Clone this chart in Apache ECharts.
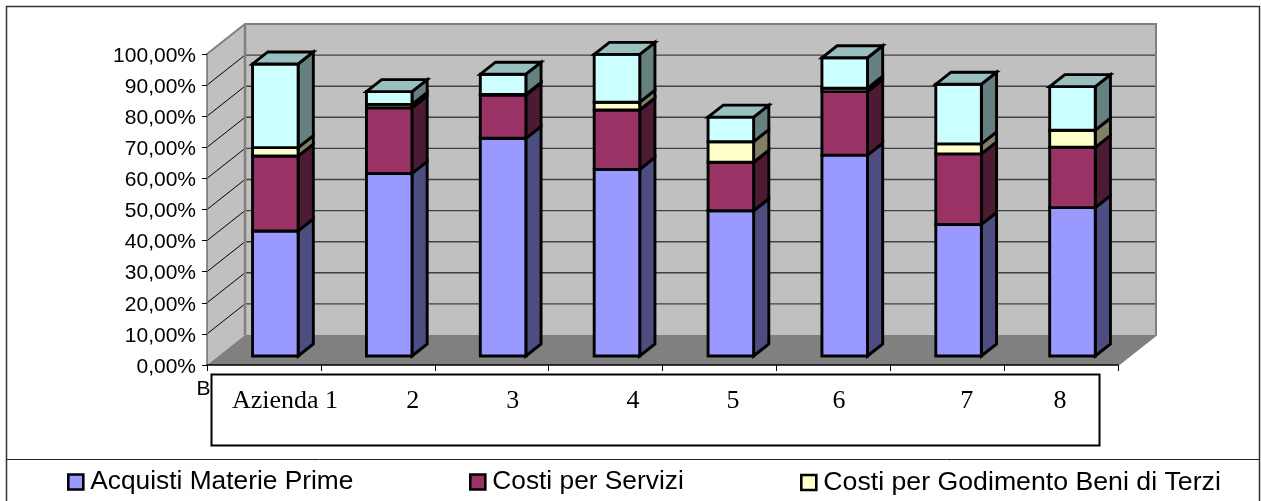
<!DOCTYPE html>
<html>
<head>
<meta charset="utf-8">
<style>html,body{margin:0;padding:0;background:#fff}#chart{width:1261px;height:501px}</style>
<script src="https://cdn.jsdelivr.net/npm/echarts@6/dist/echarts.min.js"></script>
</head>
<body>
<div id="chart"></div>
<script>
// Cost shares per company, percent of revenue, stacked bottom to top
const categories = ['Azienda 1', '2', '3', '4', '5', '6', '7', '8'];
const acquistiMateriePrime = [40.2, 58.7, 70.0, 60.0, 46.7, 64.6, 42.3, 47.7];
const costiServizi = [24.1, 21.1, 13.9, 19.1, 15.6, 20.4, 22.7, 19.4];
const costiGodimento = [2.7, 1.1, 0.2, 2.5, 6.6, 1.1, 3.2, 5.5];
const altriCosti = [26.9, 4.1, 6.5, 15.4, 7.9, 9.8, 19.2, 14.0];
const valueTicks = [0, 10, 20, 30, 40, 50, 60, 70, 80, 90, 100];

// Hand-placed x of each company label inside the text box
const labelCentres = [285, 412.7, 512.7, 633, 733, 839, 966.7, 1060];

const seriesDefs = [
  { name: 'Acquisti Materie Prime', values: acquistiMateriePrime, front: '#9999FF', side: '#4D4D80', top: '#7373BF' },
  { name: 'Costi per Servizi', values: costiServizi, front: '#993366', side: '#4D1A33', top: '#73264D' },
  { name: 'Costi per Godimento Beni di Terzi', values: costiGodimento, front: '#FFFFCC', side: '#808066', top: '#BFBF99' },
  { name: 'Altri Costi', values: altriCosti, front: '#CCFFFF', side: '#668080', top: '#99BFBF' }
];

// Oblique projection of the chart box: full depth of the floor and the walls
const depthX = 38, depthY = -30;
// Bars sit 30% into the depth and take up 40% of it, as they take 40% of the band
const barFrontDepth = 0.3, barDepth = 0.4, barWidthShare = 0.4;

const FONT = '"Liberation Sans", Arial, sans-serif';
const SERIF = '"Liberation Serif", "Times New Roman", serif';

function wallsItem(params, api) {
  const box = params.coordSys;
  const x0 = box.x, x1 = box.x + box.width;
  const bottom = api.coord([0, 0])[1], ceil = api.coord([0, 100])[1];
  const edge = { stroke: '#808080', lineWidth: 2, fill: null };
  const children = [
    { type: 'polygon', shape: { points: [[x0, bottom], [x0, ceil], [x0 + depthX, ceil + depthY], [x0 + depthX, bottom + depthY]] }, style: { fill: '#C0C0C0' } },
    { type: 'polygon', shape: { points: [[x0 + depthX, bottom + depthY], [x0 + depthX, ceil + depthY], [x1 + depthX, ceil + depthY], [x1 + depthX, bottom + depthY]] }, style: { fill: '#C0C0C0' } },
    { type: 'polygon', shape: { points: [[x0, bottom], [x1, bottom], [x1 + depthX, bottom + depthY], [x0 + depthX, bottom + depthY]] }, style: { fill: '#808080' } }
  ];
  valueTicks.filter(t => t > 0 && t < 100).forEach(t => {
    const y = api.coord([0, t])[1];
    children.push({ type: 'line', shape: { x1: x0, y1: y, x2: x0 + depthX, y2: y + depthY }, style: { stroke: '#000', lineWidth: 1 } });
    children.push({ type: 'line', shape: { x1: x0 + depthX, y1: y + depthY, x2: x1 + depthX, y2: y + depthY }, style: { stroke: '#404040', lineWidth: 1.4 } });
  });
  children.push({ type: 'polyline', shape: { points: [[x0, ceil], [x0 + depthX, ceil + depthY], [x1 + depthX, ceil + depthY], [x1 + depthX, bottom + depthY], [x1, bottom]] }, style: edge });
  children.push({ type: 'line', shape: { x1: x0 + depthX, y1: ceil + depthY, x2: x0 + depthX, y2: bottom + depthY }, style: { stroke: '#808080', lineWidth: 2.5 } });
  return { type: 'group', children };
}

// One stacked block: front, right side and, for the last series, the lid
function blockItem(def, isLast) {
  return function (params, api) {
    const band = api.size([1, 0])[0];
    const i = api.value(0);
    const centre = api.coord([i, 0])[0];
    const half = band * barWidthShare / 2;
    const ox = depthX * barFrontDepth, oy = depthY * barFrontDepth;
    const dx = depthX * barDepth, dy = depthY * barDepth;
    const yLow = api.coord([i, api.value(1)])[1] + oy;
    const yHigh = api.coord([i, api.value(2)])[1] + oy;
    const xL = centre - half + ox, xR = centre + half + ox;
    const line = { stroke: '#000', lineWidth: 2.9, lineJoin: 'miter' };
    const children = [
      { type: 'polygon', shape: { points: [[xR, yLow], [xR + dx, yLow + dy], [xR + dx, yHigh + dy], [xR, yHigh]] }, style: Object.assign({ fill: def.side }, line) },
      { type: 'polygon', shape: { points: [[xL, yLow], [xR, yLow], [xR, yHigh], [xL, yHigh]] }, style: Object.assign({ fill: def.front }, line) }
    ];
    if (isLast) {
      children.push({ type: 'polygon', shape: { points: [[xL, yHigh], [xR, yHigh], [xR + dx, yHigh + dy], [xL + dx, yHigh + dy]] }, style: Object.assign({ fill: def.top }, line) });
    }
    return { type: 'group', children };
  };
}

const stacked = new Array(categories.length).fill(0);
const barSeries = seriesDefs.map((def, s) => {
  const data = def.values.map((v, i) => {
    const row = [i, stacked[i], stacked[i] + v];
    stacked[i] += v;
    return row;
  });
  return {
    type: 'custom',
    name: def.name,
    z: 3,
    itemStyle: { color: def.front },
    encode: { x: 0, y: [1, 2] },
    data,
    renderItem: blockItem(def, s === seriesDefs.length - 1)
  };
});

const legendLayout = [67, 469, 800];
const legendFontSizes = [26.3, 26.3, 26.7];
const legends = seriesDefs.slice(0, 3).map((def, i) => ({
  left: legendLayout[i],
  top: 469,
  data: [def.name],
  icon: 'rect',
  itemWidth: 15,
  itemHeight: 15,
  padding: 0,
  itemStyle: { borderColor: '#000', borderWidth: 2.6 },
  textStyle: { fontFamily: FONT, fontSize: legendFontSizes[i], color: '#000', padding: [0, 0, 0, 2] }
}));

const labelTexts = categories.map((c, i) => ({
  type: 'text',
  z: 6,
  style: { text: c, x: labelCentres[i], y: 401, fill: '#000', font: '26px ' + SERIF, textAlign: 'center', textVerticalAlign: 'middle' }
}));

const chart = echarts.init(document.getElementById('chart'), null, { renderer: 'canvas' });
chart.setOption({
  animation: false,
  backgroundColor: '#fff',
  grid: { left: 207, top: 54, width: 911, height: 311, containLabel: false },
  legend: legends,
  xAxis: {
    type: 'category',
    data: categories,
    z: 5,
    axisLine: { lineStyle: { color: '#000', width: 1.5 } },
    axisTick: { show: true, length: 6, lineStyle: { color: '#000', width: 1 } },
    axisLabel: { show: false },
    splitLine: { show: false }
  },
  yAxis: {
    type: 'value',
    min: 0,
    max: 100,
    interval: 10,
    z: 5,
    axisLine: { show: true, lineStyle: { color: '#707070', width: 1.5 } },
    axisTick: { show: true, length: 5, lineStyle: { color: '#000', width: 1 } },
    axisLabel: {
      margin: 11,
      fontFamily: FONT,
      fontSize: 21,
      color: '#000',
      verticalAlign: 'top',
      lineHeight: 4,
      formatter: v => v.toFixed(2).replace('.', ',') + '%'
    },
    splitLine: { show: false }
  },
  graphic: [
    { type: 'polyline', z: 1, shape: { points: [[6.5, 510], [6.5, 6.5], [1259.5, 6.5], [1259.5, 510]] }, style: { stroke: '#333', lineWidth: 1.5, fill: null } },
    { type: 'line', z: 1, shape: { x1: 6, y1: 459.5, x2: 1260, y2: 459.5 }, style: { stroke: '#222', lineWidth: 1 } },
    { type: 'text', z: 2, style: { text: 'B', x: 196.5, y: 389, fill: '#000', font: '21px ' + FONT, textVerticalAlign: 'middle' } },
    { type: 'rect', z: 4, shape: { x: 211.5, y: 374.5, width: 888, height: 71 }, style: { fill: '#fff', stroke: '#000', lineWidth: 2 } }
  ].concat(labelTexts),
  series: [{
    type: 'custom',
    name: 'Pareti',
    z: 1,
    silent: true,
    data: [[0, 0]],
    encode: { x: 0, y: 1 },
    renderItem: wallsItem
  }].concat(barSeries)
});
</script>
</body>
</html>
